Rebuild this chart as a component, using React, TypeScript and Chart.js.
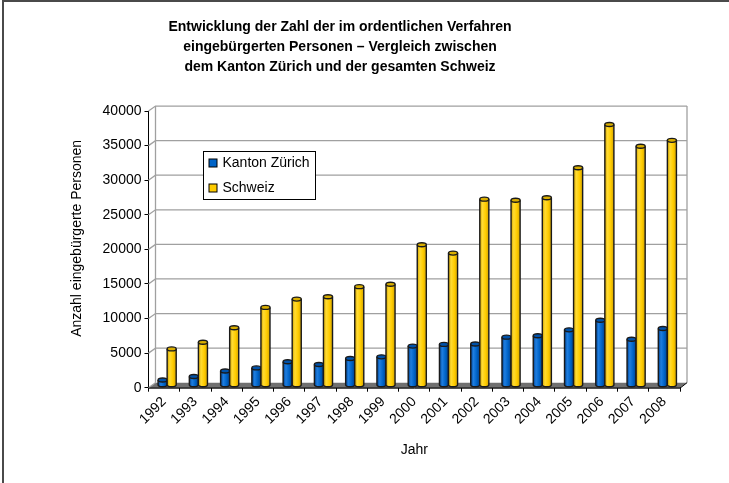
import React, { useEffect, useRef } from "react";
import { Chart, registerables } from "chart.js";

Chart.register(...registerables);

// ---- data ----
const years = ["1992", "1993", "1994", "1995", "1996", "1997", "1998", "1999", "2000", "2001", "2002", "2003", "2004", "2005", "2006", "2007", "2008"];
const zurich = [750, 1250, 2050, 2500, 3400, 3000, 3850, 4100, 5650, 5900, 5950, 6950, 7150, 8000, 9400, 6650, 8200];
const schweiz = [5250, 6200, 8300, 11250, 12450, 12800, 14250, 14600, 20300, 19100, 26900, 26750, 27100, 31450, 37700, 34550, 35400];
const seriesNames = ["Kanton Zürich", "Schweiz"];
const titleLines = [
  "Entwicklung der Zahl der im ordentlichen Verfahren",
  "eingebürgerten Personen – Vergleich zwischen",
  "dem Kanton Zürich und der gesamten Schweiz",
];
const yAxisTitle = "Anzahl eingebürgerte Personen";
const xAxisTitle = "Jahr";
const yMin = 0;
const yMax = 40000;
const yStep = 5000;

// ---- style ----
const FONT = "'Liberation Sans', Arial, Helvetica, sans-serif";
const palettes = [
  { base: "#0064C8", light: "#1F7EE0", dark: "#00428F", top: "#0052AA" },
  { base: "#FFCC00", light: "#FFDB33", dark: "#D2A300", top: "#D9AE00" },
];
const OUTLINE = "#1a1a1a";
const WALL_DX = 7;
const WALL_DY = -5;
const BAR_DX = 3;
const BAR_DY = -2.5;

function drawCylinder(ctx: CanvasRenderingContext2D, cx: number, top: number, bot: number, w: number, pal: any) {
  const l = cx - w / 2;
  const r = cx + w / 2;
  const ry = 2;
  if (bot - top < 0.5) top = bot - 0.5;
  const g = ctx.createLinearGradient(l, 0, r, 0);
  g.addColorStop(0, pal.dark);
  g.addColorStop(0.3, pal.light);
  g.addColorStop(0.65, pal.base);
  g.addColorStop(1, pal.dark);
  ctx.beginPath();
  ctx.moveTo(l, top);
  ctx.lineTo(l, bot);
  ctx.ellipse(cx, bot, w / 2, ry, 0, Math.PI, 0, true);
  ctx.lineTo(r, top);
  ctx.closePath();
  ctx.fillStyle = g;
  ctx.fill();
  ctx.beginPath();
  ctx.moveTo(l, top);
  ctx.lineTo(l, bot);
  ctx.ellipse(cx, bot, w / 2, ry, 0, Math.PI, 0, true);
  ctx.lineTo(r, top);
  ctx.strokeStyle = OUTLINE;
  ctx.lineWidth = 1.4;
  ctx.stroke();
  ctx.beginPath();
  ctx.ellipse(cx, top, w / 2, ry, 0, 0, Math.PI * 2);
  ctx.fillStyle = pal.top;
  ctx.fill();
  ctx.stroke();
}

const threeDPlugin = {
  id: "threeD",
  beforeDraw(chart: any) {
    const ctx = chart.ctx;
    ctx.save();
    ctx.fillStyle = "#ffffff";
    ctx.fillRect(0, 0, chart.width, chart.height);
    ctx.fillStyle = "#4a4a4a";
    ctx.fillRect(2, 0, 2, chart.height);
    ctx.fillRect(2, 0, chart.width - 2, 2);
    ctx.restore();
  },
  beforeDatasetsDraw(chart: any) {
    const { ctx, chartArea: a, scales } = chart;
    const y = scales.y;
    ctx.save();
    // floor
    ctx.beginPath();
    ctx.moveTo(a.left, a.bottom);
    ctx.lineTo(a.right, a.bottom);
    ctx.lineTo(a.right + WALL_DX, a.bottom + WALL_DY);
    ctx.lineTo(a.left + WALL_DX, a.bottom + WALL_DY);
    ctx.closePath();
    ctx.fillStyle = "#707070";
    ctx.fill();
    // back wall grid
    ctx.strokeStyle = "#a0a0a0";
    ctx.lineWidth = 1.3;
    y.ticks.forEach((t: any) => {
      const py = y.getPixelForValue(t.value);
      ctx.beginPath();
      ctx.moveTo(a.left, py);
      ctx.lineTo(a.left + WALL_DX, py + WALL_DY);
      if (t.value !== yMin) ctx.lineTo(a.right + WALL_DX, py + WALL_DY);
      ctx.stroke();
    });
    ctx.beginPath();
    ctx.moveTo(a.left + WALL_DX, a.top + WALL_DY);
    ctx.lineTo(a.left + WALL_DX, a.bottom + WALL_DY);
    ctx.moveTo(a.right + WALL_DX, a.top + WALL_DY);
    ctx.lineTo(a.right + WALL_DX, a.bottom + WALL_DY);
    ctx.stroke();
    // front floor edges
    ctx.strokeStyle = "#000";
    ctx.lineWidth = 1;
    ctx.beginPath();
    ctx.moveTo(a.left, a.bottom + 0.5);
    ctx.lineTo(a.right, a.bottom + 0.5);
    ctx.lineTo(a.right + WALL_DX, a.bottom + WALL_DY);
    ctx.stroke();
    ctx.restore();
  },
  beforeDatasetDraw() {
    return false;
  },
  afterDatasetsDraw(chart: any) {
    const { ctx, chartArea: a } = chart;
    ctx.save();
    const metas = chart.data.datasets.map((_: any, i: number) => chart.getDatasetMeta(i));
    const n = chart.data.labels.length;
    for (let j = 0; j < n; j++) {
      metas.forEach((m: any, i: number) => {
        const el = m.data[j];
        drawCylinder(ctx, el.x + BAR_DX, el.y + BAR_DY, el.base + BAR_DY, el.width, palettes[i]);
      });
    }
    // y axis title
    ctx.font = `14px ${FONT}`;
    ctx.fillStyle = "#000";
    ctx.save();
    ctx.translate(a.left - 71, (a.top + a.bottom) / 2 - 11);
    ctx.rotate(-Math.PI / 2);
    ctx.textAlign = "center";
    ctx.textBaseline = "middle";
    ctx.fillText(yAxisTitle, 0, 0);
    ctx.restore();
    // legend
    const names = chart.data.datasets.map((d: any) => d.label);
    const tw = Math.max(...names.map((s: string) => ctx.measureText(s).width));
    const bx = Math.round(a.left + 54) + 0.5;
    const by = Math.round(a.top + 40) + 0.5;
    const bw = Math.round(6 + 9 + 5 + tw + 5);
    const bh = 48;
    ctx.fillStyle = "#fff";
    ctx.fillRect(bx, by, bw, bh);
    ctx.strokeStyle = "#000";
    ctx.lineWidth = 1;
    ctx.strokeRect(bx, by, bw, bh);
    names.forEach((s: string, i: number) => {
      const cy = by + 12 + i * 25;
      ctx.fillStyle = palettes[i].base;
      ctx.fillRect(bx + 5.5, cy - 4.5, 8, 8);
      ctx.strokeStyle = "#000";
      ctx.strokeRect(bx + 5.5, cy - 4.5, 8, 8);
      ctx.fillStyle = "#000";
      ctx.textBaseline = "middle";
      ctx.textAlign = "left";
      ctx.fillText(s, bx + 19, cy);
    });
    ctx.restore();
  },
};

export default function App() {
  const ref = useRef<HTMLCanvasElement | null>(null);
  useEffect(() => {
    if (!ref.current) return;
    const chart = new Chart(ref.current, {
      type: "bar",
      data: {
        labels: years,
        datasets: [
          { label: seriesNames[0], data: zurich, backgroundColor: palettes[0].base },
          { label: seriesNames[1], data: schweiz, backgroundColor: palettes[1].base },
        ],
      },
      options: {
        responsive: false,
        animation: false,
        devicePixelRatio: 1,
        layout: { padding: { left: 0, right: 49, top: 0, bottom: 0 } },
        datasets: { bar: { categoryPercentage: 0.58, barPercentage: 1 } },
        plugins: {
          legend: { display: false },
          tooltip: { enabled: false },
          title: {
            display: true,
            text: titleLines,
            color: "#000",
            font: { family: FONT, size: 14, weight: "bold", lineHeight: 1.43 },
            padding: { top: 17, bottom: 34 },
          },
        },
        scales: {
          x: {
            afterFit: (s: any) => {
              s.height = 95.3;
            },
            grid: { display: true, drawOnChartArea: false, drawTicks: true, tickLength: 4, tickColor: "#000", offset: true },
            border: { display: true, color: "#000" },
            ticks: { color: "#000", font: { family: FONT, size: 14 }, minRotation: 45, maxRotation: 45, autoSkip: false, padding: 2 },
            title: { display: true, text: xAxisTitle, color: "#000", font: { family: FONT, size: 14 }, padding: { top: 0, bottom: 24.6 } },
          },
          y: {
            min: yMin,
            max: yMax,
            afterFit: (s: any) => {
              s.width = 148.5;
            },
            grid: { display: true, drawOnChartArea: false, drawTicks: true, tickLength: 4, tickColor: "#000" },
            border: { display: true, color: "#000" },
            ticks: { stepSize: yStep, color: "#000", font: { family: FONT, size: 14 }, padding: 3, callback: (v: any) => String(v) },
            title: { display: false },
          },
        },
      },
      plugins: [threeDPlugin],
    });
    return () => chart.destroy();
  }, []);
  return (
    <div style={{ position: "fixed", left: 0, top: 0, width: 729, height: 483, background: "#fff" }}>
      <canvas ref={ref} width={729} height={483} style={{ display: "block", width: 729, height: 483 }} />
    </div>
  );
}
